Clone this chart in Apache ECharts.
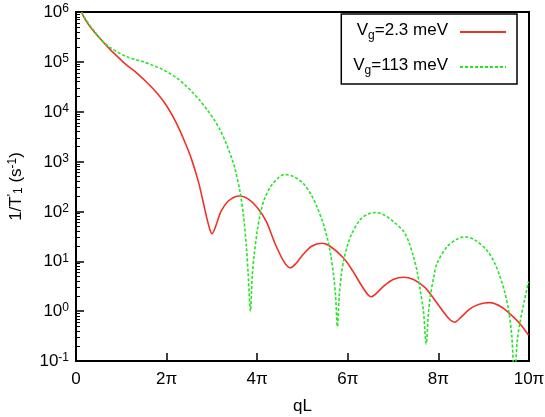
<!DOCTYPE html>
<html>
<head>
<meta charset="utf-8">
<script src="https://cdn.jsdelivr.net/npm/echarts@6/dist/echarts.min.js"></script>
<style>
  html, body { margin: 0; padding: 0; background: #fff; }
  #main { width: 545px; height: 417px; }
</style>
</head>
<body>
<div id="main"></div>
<script>
// qL in units of pi, 1/T'1 in s^-1
const redQL = [0.12, 0.2, 0.3, 0.4, 0.6, 0.75, 0.9, 1.1, 1.35, 1.6, 1.8, 2.0, 2.2, 2.4, 2.55, 2.7, 2.8, 2.9, 2.96, 3.0, 3.05, 3.12, 3.2, 3.35, 3.5, 3.62, 3.8, 4.0, 4.2, 4.4, 4.6, 4.73, 4.85, 5.0, 5.2, 5.43, 5.61, 5.91, 6.1, 6.3, 6.45, 6.52, 6.6, 6.8, 7.0, 7.23, 7.45, 7.7, 7.9, 8.1, 8.25, 8.36, 8.5, 8.7, 8.9, 9.14, 9.4, 9.6, 9.8, 9.99];
const redRate = [1.0e6, 7.2e5, 5.2e5, 4.0e5, 2.5e5, 1.78e5, 1.32e5, 8.9e4, 5.9e4, 3.6e4, 2.3e4, 1.32e4, 6.3e3, 2.5e3, 1.12e3, 400, 166, 66, 42, 35.5, 42, 63, 100, 158, 195, 204, 178, 120, 63, 22, 9.5, 7.4, 8.9, 13.2, 20, 23, 20, 11.5, 6.6, 3.3, 2.1, 1.95, 2.14, 3.2, 4.3, 4.8, 4.3, 3.0, 1.78, 1.0, 0.68, 0.60, 0.76, 1.12, 1.38, 1.48, 1.2, 0.85, 0.56, 0.33];

const greenQL = [0.12, 0.2, 0.3, 0.39, 0.55, 0.75, 0.95, 1.12, 1.3, 1.49, 1.7, 1.86, 2.05, 2.23, 2.4, 2.59, 2.74, 2.92, 3.05, 3.18, 3.3, 3.44, 3.51, 3.62, 3.7, 3.76, 3.8, 3.85, 3.89, 3.93, 4.0, 4.07, 4.16, 4.29, 4.45, 4.6, 4.8, 5.02, 5.2, 5.32, 5.45, 5.54, 5.62, 5.69, 5.73, 5.77, 5.81, 5.86, 5.91, 6.0, 6.09, 6.27, 6.45, 6.62, 6.8, 7.0, 7.23, 7.35, 7.45, 7.53, 7.6, 7.67, 7.73, 7.78, 7.82, 7.9, 7.97, 8.19, 8.4, 8.59, 8.8, 9.07, 9.25, 9.36, 9.46, 9.55, 9.62, 9.68, 9.74, 9.81, 9.9, 9.99];
const greenRate = [1.0e6, 7.4e5, 5.5e5, 4.3e5, 2.8e5, 1.95e5, 1.51e5, 1.26e5, 1.12e5, 1.0e5, 8.5e4, 7.4e4, 6.0e4, 4.7e4, 3.5e4, 2.35e4, 1.66e4, 1.02e4, 6.9e3, 4.3e3, 2.5e3, 1.15e3, 720, 250, 79, 20, 5.6, 1.0, 5.0, 12.6, 40, 91, 178, 309, 457, 550, 500, 363, 209, 123, 60, 31, 14, 4.9, 2.0, 0.49, 2.0, 5.6, 10.7, 22, 36, 68, 89, 95, 85, 63, 40, 24, 12.3, 6.3, 2.6, 1.0, 0.22, 0.9, 1.95, 5.0, 9.1, 19.5, 27.5, 31, 27, 16.6, 8.9, 4.9, 2.5, 1.05, 0.32, 0.04, 0.25, 0.66, 1.66, 3.9];

const seriesNames = ["V_g=2.3 meV", "V_g=113 meV"];
const xTicks = [0, 2, 4, 6, 8, 10];
const yExponents = [-1, 0, 1, 2, 3, 4, 5, 6];

const font = "Liberation Sans";

// minor tick positions for the log axis, on a log10 helper axis
const minorTicks = [];
for (let e = -1; e < 6; e++) {
  for (let k = 2; k <= 9; k++) minorTicks.push(e + Math.log10(k));
}

const legendLabel = name => {
  const [v, rest] = name.split("_");
  return `{m|${v}}{sub|${rest.slice(0, 1)}}{m|${rest.slice(1)}}{gap|}`;
};

const chart = echarts.init(document.getElementById("main"));
chart.setOption({
  animation: false,
  textStyle: { fontFamily: font, color: "#000" },
  grid: {
    left: 76, right: 16, top: 12, bottom: 56,
    outerBoundsMode: "none",
    show: true, borderColor: "#000", borderWidth: 2,
  },
  legend: {
    orient: "vertical",
    right: 28, top: 14,
    align: "right",
    padding: [8, 10, 4, 12],
    itemGap: 12,
    itemWidth: 46,
    itemHeight: 14,
    borderColor: "#000",
    borderWidth: 1.5,
    itemStyle: { opacity: 0, color: "rgba(0,0,0,0)", borderWidth: 0 },
    data: seriesNames,
    formatter: legendLabel,
    textStyle: {
      fontFamily: font,
      rich: {
        m: { fontSize: 17, lineHeight: 20, padding: [0, 0, 6, 0], verticalAlign: "top", fontFamily: font, color: "#000" },
        sub: { fontSize: 12, lineHeight: 14, verticalAlign: "bottom", fontFamily: font, color: "#000" },
        gap: { width: 7 },
      },
    },
  },
  xAxis: {
    type: "value",
    min: 0, max: 10, interval: 2,
    name: "qL",
    nameLocation: "middle",
    nameGap: 37,
    nameTextStyle: { fontSize: 17, fontFamily: font, color: "#000" },
    axisLine: { show: true, onZero: false, lineStyle: { color: "#000", width: 2 } },
    axisTick: { show: true, inside: true, length: 8, lineStyle: { color: "#000", width: 1.5 } },
    splitLine: { show: false },
    axisLabel: {
      fontSize: 17, color: "#000", fontFamily: font, margin: 10,
      formatter: v => (xTicks.includes(v) ? (v === 0 ? "0" : v + "π") : ""),
    },
  },
  yAxis: [
    {
      type: "log",
      logBase: 10,
      min: 0.1, max: 1e6,
      name: "{a|1/T}{sup|'}{sub|1}{a| (s}{sup|-1}{a|)}",
      nameLocation: "middle",
      nameRotate: 90,
      nameGap: 48,
      nameTextStyle: {
        rich: {
          a: { fontSize: 17, lineHeight: 18, padding: [4, 0, 4, 0], verticalAlign: "middle", fontFamily: font, color: "#000" },
          sup: { fontSize: 12, lineHeight: 12, verticalAlign: "top", fontFamily: font, color: "#000" },
          sub: { fontSize: 12, lineHeight: 12, verticalAlign: "bottom", fontFamily: font, color: "#000" },
        },
      },
      axisLine: { show: true, lineStyle: { color: "#000", width: 2 } },
      axisTick: { show: true, inside: true, length: 8, lineStyle: { color: "#000", width: 1.5 } },
      splitLine: { show: false },
      axisLabel: {
        margin: 7,
        formatter: v => {
          const e = Math.round(Math.log10(v));
          return yExponents.includes(e) ? `{b|10}{sup|${e}}` : "";
        },
        rich: {
          b: { fontSize: 17, lineHeight: 18, padding: [6, 0, 0, 0], verticalAlign: "bottom", fontFamily: font, color: "#000" },
          sup: { fontSize: 12, lineHeight: 12, verticalAlign: "top", fontFamily: font, color: "#000" },
        },
      },
    },
    {
      type: "value",
      min: -1, max: 6,
      position: "left",
      axisLine: { show: false, onZero: false },
      axisLabel: { show: false },
      splitLine: { show: false },
      axisTick: { show: true, inside: true, length: 4, customValues: minorTicks, lineStyle: { color: "#000", width: 1 } },
    },
  ],
  series: [
    {
      name: seriesNames[0],
      type: "line",
      yAxisIndex: 0,
      symbol: "none",
      smooth: 0.3,
      data: redQL.map((q, i) => [q, redRate[i]]),
      lineStyle: { color: "#f03226", width: 1.6 },
      itemStyle: { color: "#f03226" },
    },
    {
      name: seriesNames[1],
      type: "line",
      yAxisIndex: 0,
      symbol: "none",
      smooth: 0.3,
      data: greenQL.map((q, i) => [q, greenRate[i]]),
      lineStyle: { color: "#22e622", width: 1.6, type: [3, 2] },
      itemStyle: { color: "#22e622" },
    },
  ],
});
</script>
</body>
</html>
